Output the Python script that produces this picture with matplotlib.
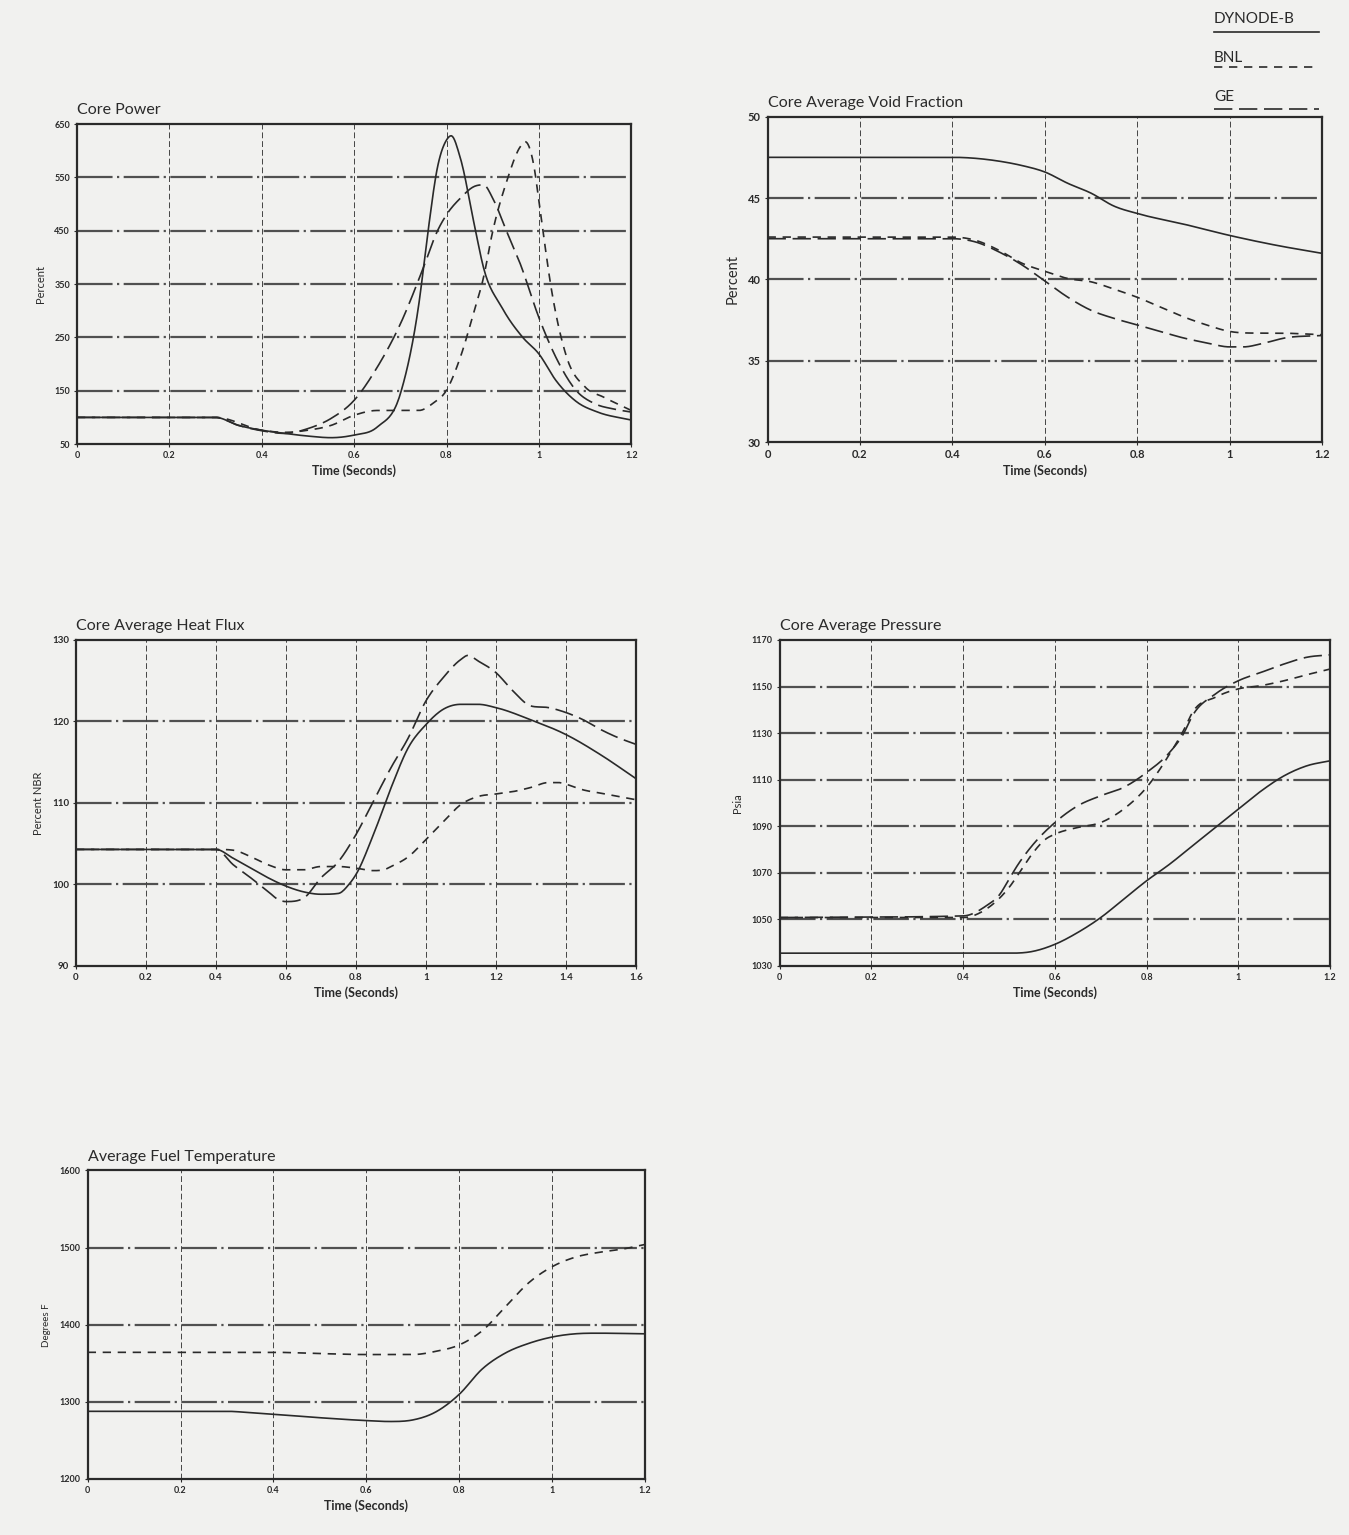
import numpy as np
import matplotlib.pyplot as plt

plt.rcParams['font.family'] = ['Lato', 'DejaVu Sans']

# ---- Core Power ----
pw_t_dyn = [0, 0.3, 0.35, 0.4, 0.45, 0.5, 0.55, 0.6, 0.65, 0.7, 0.74, 0.76, 0.78, 0.8, 0.81,
            0.83, 0.86, 0.88, 0.92, 0.965, 1.0, 1.037, 1.082, 1.127, 1.2]
pw_dyn = [100, 100, 85, 76, 70, 65, 62, 67, 82, 144, 312, 449, 567, 620, 628,
          586, 462, 381, 306, 250, 219, 169, 129, 110, 95]
pw_t_bnl = [0, 0.3, 0.4, 0.45, 0.5, 0.55, 0.6, 0.65, 0.7, 0.74, 0.77, 0.8, 0.83, 0.86, 0.88,
            0.9, 0.93, 0.96, 0.97, 0.99, 1.0, 1.03, 1.06, 1.1, 1.14, 1.2]
pw_bnl = [100, 100, 76, 72, 76, 85, 104, 113, 113, 113, 126, 151, 213, 300, 362,
          449, 542, 608, 617, 567, 505, 325, 213, 157, 138, 113]
pw_t_ge = [0, 0.3, 0.35, 0.4, 0.45, 0.5, 0.55, 0.6, 0.65, 0.7, 0.75, 0.78, 0.8, 0.83, 0.86,
           0.88, 0.9, 0.93, 0.96, 1.0, 1.04, 1.08, 1.12, 1.16, 1.2]
pw_ge = [100, 100, 85, 75, 70, 79, 98, 132, 194, 275, 381, 449, 480, 511, 533,
         536, 511, 449, 387, 287, 207, 151, 126, 116, 110]

# ---- Core Average Void Fraction ----
vf_t_dyn = [0, 0.4, 0.5, 0.55, 0.6, 0.65, 0.7, 0.75, 0.8, 0.9, 1.0, 1.1, 1.2]
vf_dyn = [47.5, 47.5, 47.27, 47.0, 46.6, 45.9, 45.3, 44.5, 44.05, 43.4, 42.7, 42.1, 41.6]
vf_t_bnl = [0, 0.4, 0.45, 0.5, 0.55, 0.6, 0.65, 0.7, 0.75, 0.8, 0.85, 0.9, 0.95, 1.0, 1.05, 1.1, 1.2]
vf_bnl = [42.6, 42.6, 42.4, 41.8, 41.0, 40.5, 40.05, 39.85, 39.4, 38.9, 38.3, 37.7, 37.2,
          36.8, 36.7, 36.7, 36.6]
vf_t_ge = [0, 0.4, 0.45, 0.5, 0.55, 0.6, 0.65, 0.7, 0.75, 0.8, 0.85, 0.9, 0.95, 1.0, 1.03,
           1.07, 1.12, 1.2]
vf_ge = [42.5, 42.5, 42.3, 41.7, 40.9, 39.9, 38.9, 38.1, 37.6, 37.2, 36.8, 36.4, 36.1,
         35.85, 35.85, 36.05, 36.4, 36.55]

# ---- Core Average Heat Flux ----
hf_t_dyn = [0, 0.4, 0.45, 0.5, 0.55, 0.6, 0.65, 0.7, 0.75, 0.78, 0.8, 0.85, 0.9, 0.95, 1.0,
            1.05, 1.1, 1.15, 1.2, 1.3, 1.4, 1.5, 1.6]
hf_dyn = [104.3, 104.3, 103.2, 102.0, 100.8, 99.8, 99.1, 98.8, 98.9, 100.0, 101.2, 106.1,
          111.8, 116.8, 119.6, 121.5, 122.1, 122.1, 121.7, 120.2, 118.4, 115.9, 113.0]
hf_t_bnl = [0, 0.4, 0.45, 0.5, 0.55, 0.6, 0.65, 0.7, 0.75, 0.8, 0.85, 0.88, 0.9, 0.95, 1.0,
            1.05, 1.1, 1.15, 1.2, 1.25, 1.3, 1.35, 1.38, 1.4, 1.45, 1.5, 1.55, 1.6]
hf_bnl = [104.3, 104.3, 104.2, 103.4, 102.4, 101.8, 101.8, 102.2, 102.2, 102.0, 101.7, 101.8,
          102.2, 103.4, 105.5, 107.7, 109.8, 110.8, 111.1, 111.4, 111.9, 112.5, 112.5, 112.3,
          111.6, 111.2, 110.8, 110.4]
hf_t_ge = [0, 0.4, 0.45, 0.5, 0.55, 0.58, 0.6, 0.65, 0.7, 0.75, 0.8, 0.85, 0.9, 0.95, 1.0,
           1.05, 1.1, 1.12, 1.15, 1.2, 1.25, 1.3, 1.35, 1.4, 1.45, 1.5, 1.55, 1.6]
hf_ge = [104.3, 104.3, 102.4, 100.8, 99.1, 98.1, 97.9, 98.3, 100.8, 102.8, 106.1, 110.2,
         114.3, 118.0, 122.5, 125.4, 127.6, 128.1, 127.4, 126.0, 123.7, 121.9, 121.7, 121.1,
         120.2, 119.0, 118.0, 117.2]

# ---- Core Average Pressure ----
pr_t_dyn = [0, 0.5, 0.55, 0.6, 0.65, 0.7, 0.75, 0.8, 0.85, 0.9, 0.95, 1.0, 1.05, 1.1, 1.15, 1.2]
pr_dyn = [1035.5, 1035.5, 1036.2, 1039.3, 1044.4, 1050.8, 1058.7, 1066.6, 1073.7, 1081.6,
          1089.5, 1097.4, 1105.2, 1111.7, 1116.0, 1118.1]
pr_t_bnl = [0, 0.4, 0.45, 0.5, 0.53, 0.55, 0.58, 0.6, 0.65, 0.7, 0.75, 0.8, 0.85, 0.88, 0.9,
            0.95, 1.0, 1.05, 1.1, 1.15, 1.2]
pr_bnl = [1050.8, 1050.8, 1054.4, 1063.7, 1072.3, 1078.0, 1084.5, 1086.6, 1089.5, 1091.6,
          1097.4, 1106.7, 1121.0, 1131.0, 1138.9, 1145.4, 1149.0, 1150.4, 1152.5, 1155.1, 1157.5]
pr_t_ge = [0, 0.4, 0.45, 0.48, 0.5, 0.52, 0.55, 0.6, 0.65, 0.7, 0.75, 0.8, 0.85, 0.88, 0.9,
           0.95, 1.0, 1.05, 1.1, 1.15, 1.2]
pr_ge = [1050.8, 1051.5, 1055.8, 1060.8, 1067.3, 1073.7, 1081.6, 1091.6, 1098.8, 1103.1,
         1106.7, 1113.1, 1121.7, 1129.6, 1137.5, 1146.8, 1152.5, 1156.1, 1159.7, 1162.6, 1163.6]

# ---- Average Fuel Temperature ----
ft_t_dyn = [0, 0.3, 0.35, 0.4, 0.5, 0.6, 0.65, 0.7, 0.75, 0.8, 0.85, 0.9, 0.95, 1.0, 1.05, 1.1, 1.2]
ft_dyn = [1287.7, 1287.7, 1286, 1284, 1279.4, 1275.7, 1274.5, 1276.5, 1287, 1309.6, 1342.7,
          1363.4, 1375.8, 1384, 1388.2, 1389, 1388.2]
ft_t_bnl = [0, 0.4, 0.5, 0.6, 0.7, 0.75, 0.8, 0.85, 0.9, 0.95, 1.0, 1.05, 1.1, 1.15, 1.2]
ft_bnl = [1364.2, 1364.2, 1362.6, 1361.3, 1361.3, 1365.5, 1373.7, 1392.3, 1423.4, 1454.4,
          1475.1, 1487.5, 1493.7, 1497.8, 1504]

BG = '#f1f1ef'
INK = '#2a2a2a'


def smooth(t, v):
    # cubic hermite through the read points, flat at local extrema
    t = np.asarray(t, float)
    v = np.asarray(v, float)
    tt = np.linspace(t[0], t[-1], 500)
    h = np.diff(t)
    d = np.diff(v) / h
    m = np.zeros_like(v)
    m[0], m[-1] = d[0], d[-1]
    for i in range(1, len(v) - 1):
        if d[i - 1] * d[i] <= 0:
            m[i] = 0
        else:
            m[i] = (h[i] * d[i - 1] + h[i - 1] * d[i]) / (h[i - 1] + h[i])
            lim = 3 * min(abs(d[i - 1]), abs(d[i]))
            m[i] = np.sign(m[i]) * min(abs(m[i]), lim)
    idx = np.clip(np.searchsorted(t, tt) - 1, 0, len(h) - 1)
    s = (tt - t[idx]) / h[idx]
    h00 = 2 * s**3 - 3 * s**2 + 1
    h10 = s**3 - 2 * s**2 + s
    h01 = -2 * s**3 + 3 * s**2
    h11 = s**3 - s**2
    vv = h00 * v[idx] + h10 * h[idx] * m[idx] + h01 * v[idx + 1] + h11 * h[idx] * m[idx + 1]
    return tt, vv


def panel(rect, title, ylabel, xmax, ylim, yticks, xlabels, series, tsize=6.5, ysize=8):
    ax = fig.add_axes(rect)
    ax.set_facecolor(BG)
    xt = np.linspace(0, xmax, len(xlabels))
    ax.set_xlim(0, xmax)
    ax.set_ylim(*ylim)
    ax.set_xticks(xt)
    ax.set_xticklabels(xlabels)
    ax.set_yticks(yticks)
    ax.set_yticklabels([str(y) for y in yticks])
    for y in yticks[1:-1]:
        ax.axhline(y, color='#505050', lw=1.6, ls=(0, (16, 2, 1, 2)), zorder=1)
    for x in xt[1:-1]:
        ax.axvline(x, color='#444444', lw=0.7, ls=(0, (6, 3)), zorder=1)
    for sp in ax.spines.values():
        sp.set_linewidth(1.6)
        sp.set_color(INK)
    ax.tick_params(length=2, width=0.8, labelsize=tsize, colors=INK, pad=3)
    for lab in ax.get_xticklabels() + ax.get_yticklabels():
        lab.set_fontweight('bold')
    ax.set_title(title, loc='left', fontsize=11.5, color=INK, pad=7)
    ax.set_ylabel(ylabel, fontsize=ysize, color=INK, labelpad=6)
    ax.set_xlabel('Time (Seconds)', fontsize=9, color=INK, labelpad=3, fontweight='bold')
    styles = {'dyn': dict(ls='-'), 'bnl': dict(ls=(0, (5, 4))), 'ge': dict(ls=(0, (11, 4)))}
    for key, t, v in series:
        tt, vv = smooth(t, v)
        ax.plot(tt, vv, color=INK, lw=1.2, zorder=3, **styles[key])
    return ax


fig = plt.figure(figsize=(13.49, 15.35), dpi=100)
fig.patch.set_facecolor(BG)

x12 = ['0', '0.2', '0.4', '0.6', '0.8', '1', '1.2']
x16 = ['0', '0.2', '0.4', '0.6', '0.8', '1', '1.2', '1.4', '1.6']

panel([0.057, 0.7107, 0.411, 0.2085], 'Core Power', 'Percent', 1.2, (50, 650),
      [50, 150, 250, 350, 450, 550, 650], x12,
      [('dyn', pw_t_dyn, pw_dyn), ('bnl', pw_t_bnl, pw_bnl), ('ge', pw_t_ge, pw_ge)])

panel([0.569, 0.712, 0.411, 0.212], 'Core Average Void Fraction', 'Percent', 1.2, (30, 50),
      [30, 35, 40, 45, 50], x12,
      [('dyn', vf_t_dyn, vf_dyn), ('bnl', vf_t_bnl, vf_bnl), ('ge', vf_t_ge, vf_ge)],
      tsize=8, ysize=10.5)

panel([0.0563, 0.3707, 0.415, 0.2124], 'Core Average Heat Flux', 'Percent NBR', 1.6, (90, 130),
      [90, 100, 110, 120, 130], x16,
      [('dyn', hf_t_dyn, hf_dyn), ('bnl', hf_t_bnl, hf_bnl), ('ge', hf_t_ge, hf_ge)],
      tsize=7)

panel([0.578, 0.3707, 0.408, 0.2124], 'Core Average Pressure', 'Psia', 1.2, (1030, 1170),
      [1030, 1050, 1070, 1090, 1110, 1130, 1150, 1170], x12,
      [('dyn', pr_t_dyn, pr_dyn), ('bnl', pr_t_bnl, pr_bnl), ('ge', pr_t_ge, pr_ge)])

panel([0.065, 0.0365, 0.413, 0.201], 'Average Fuel Temperature', 'Degrees F', 1.2, (1200, 1600),
      [1200, 1300, 1400, 1500, 1600], x12,
      [('dyn', ft_t_dyn, ft_dyn), ('bnl', ft_t_bnl, ft_bnl)], ysize=7)

# legend key in the top right corner
fig.text(0.900, 0.9875, 'DYNODE-B', fontsize=11, color=INK, va='center')
fig.add_artist(plt.Line2D([0.900, 0.978], [0.979, 0.979], color=INK, lw=1.2))
fig.text(0.900, 0.9625, 'BNL', fontsize=11, color=INK, va='center')
fig.add_artist(plt.Line2D([0.900, 0.978], [0.9565, 0.9565], color=INK, lw=1.2, ls=(0, (5, 4))))
fig.text(0.900, 0.937, 'GE', fontsize=11, color=INK, va='center')
fig.add_artist(plt.Line2D([0.900, 0.978], [0.929, 0.929], color=INK, lw=1.2, ls=(0, (11, 4))))

fig.savefig('out.png', dpi=100, facecolor=BG)
